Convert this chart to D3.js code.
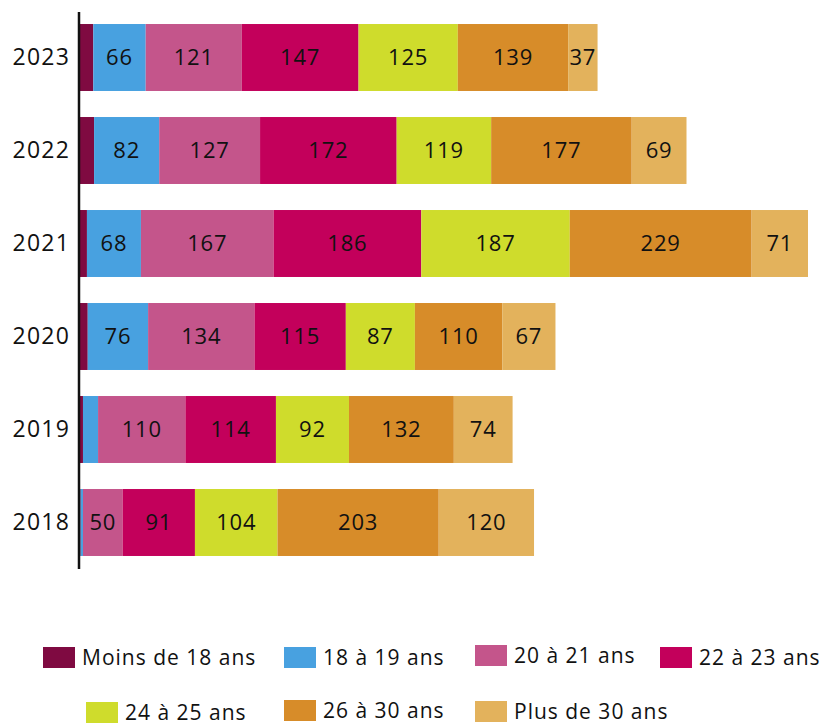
<!DOCTYPE html>
<html>
<head>
<meta charset="utf-8">
<script src="https://cdn.jsdelivr.net/npm/d3@7"></script>
<style>
  body { margin: 0; background: #fff; }
  svg text { font-family: "Open Sans", Lato, sans-serif; fill: #111; }
</style>
</head>
<body>
<div id="chart"></div>
<script>
// stacked horizontal bars, age groups per year
const years = ['2023', '2022', '2021', '2020', '2019', '2018'];
const groups = ['Moins de 18 ans', '18 à 19 ans', '20 à 21 ans', '22 à 23 ans', '24 à 25 ans', '26 à 30 ans', 'Plus de 30 ans'];
const colors = ['#7f0a41', '#48a1e0', '#c4558b', '#c3005b', '#cfdc2c', '#d78c29', '#e3b25c'];

// one array per age group, in the order of `years`
const moins18 = [18, 19, 10, 11, 5, 2];
const a18_19 = [66, 82, 68, 76, 19, 3];
const a20_21 = [121, 127, 167, 134, 110, 50];
const a22_23 = [147, 172, 186, 115, 114, 91];
const a24_25 = [125, 119, 187, 87, 92, 104];
const a26_30 = [139, 177, 229, 110, 132, 203];
const plus30 = [37, 69, 71, 67, 74, 120];
const series = [moins18, a18_19, a20_21, a22_23, a24_25, a26_30, plus30];

const width = 824, height = 725;
const left = 79;

const rows = years.map((y, i) => {
  const r = { year: y };
  groups.forEach((g, j) => { r[g] = series[j][i]; });
  return r;
});

const stack = d3.stack().keys(groups)(rows);

const x = d3.scaleLinear().domain([0, 918]).range([left, 808]);
const y = d3.scaleBand().domain(years).range([11, 569]).paddingInner(0.28).paddingOuter(0.14);
const color = d3.scaleOrdinal().domain(groups).range(colors);

const svg = d3.select('#chart').append('svg')
  .attr('width', width)
  .attr('height', height);

const layers = svg.append('g').selectAll('g.layer')
  .data(stack)
  .join('g')
  .attr('class', 'layer')
  .attr('fill', d => color(d.key));

layers.selectAll('rect')
  .data(d => d)
  .join('rect')
  .attr('x', d => x(d[0]))
  .attr('y', d => y(d.data.year))
  .attr('width', d => x(d[1]) - x(d[0]))
  .attr('height', y.bandwidth());

// value labels (small segments are left blank)
layers.selectAll('text')
  .data(d => d.filter(s => s[1] - s[0] >= 25))
  .join('text')
  .attr('x', d => (x(d[0]) + x(d[1])) / 2)
  .attr('y', d => y(d.data.year) + y.bandwidth() / 2)
  .attr('dy', '0.36em')
  .attr('text-anchor', 'middle')
  .style('font-size', '22px')
  .style('letter-spacing', '0.8px')
  .text(d => d[1] - d[0]);

// y axis: only the line and the year labels
const yAxis = svg.append('g')
  .attr('transform', `translate(${left},0)`)
  .call(d3.axisLeft(y).tickSize(0).tickPadding(9));
yAxis.select('.domain').remove();
yAxis.selectAll('text')
  .style('font-size', '23px')
  .style('letter-spacing', '1.2px')
  .style('font-family', '"Open Sans", Lato, sans-serif')
  .attr('fill', '#111');
svg.append('line')
  .attr('x1', left).attr('x2', left)
  .attr('y1', 12).attr('y2', 569)
  .attr('stroke', '#111')
  .attr('stroke-width', 2.5);

// legend, two rows
const legendPos = [[43, 657], [284, 657], [475, 655], [660, 657], [86, 712], [284, 710], [475, 711]];
const legend = svg.append('g').selectAll('g')
  .data(groups)
  .join('g')
  .attr('transform', (d, i) => `translate(${legendPos[i][0]},${legendPos[i][1]})`);
legend.append('rect')
  .attr('x', 0).attr('y', -10)
  .attr('width', 32).attr('height', 21)
  .attr('fill', d => color(d));
legend.append('text')
  .attr('x', 39)
  .attr('dy', '0.38em')
  .style('font-size', '21px')
  .style('letter-spacing', '1px')
  .text(d => d);
</script>
</body>
</html>
